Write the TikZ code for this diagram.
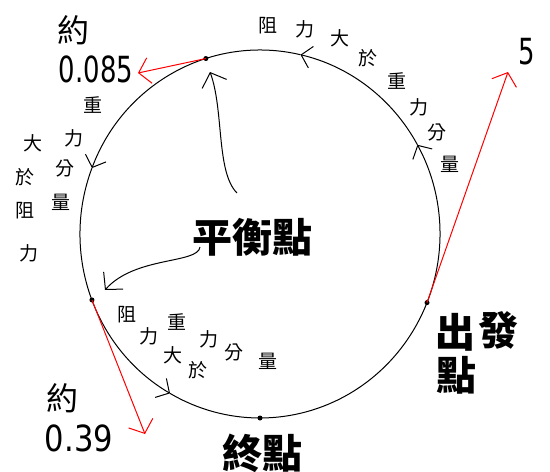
\documentclass[tikz,border=0pt]{standalone}
\usepackage{fontspec}
\usepackage{graphicx}
\newfontfamily\cjk{Noto Sans CJK TC}
\newfontfamily\numf{DejaVu Sans}
\usetikzlibrary{arrows.meta}
\begin{document}
\begin{tikzpicture}[x=1pt,y=-1pt,
  line width=1pt,
  lab/.style={font=\cjk\fontsize{19}{19}\selectfont, inner sep=0pt},
  big/.style={font=\cjk\bfseries\fontsize{40}{40}\selectfont, inner sep=0pt},
  yue/.style={font=\cjk\fontsize{32}{32}\selectfont, inner sep=0pt},
  numlab/.style={font=\numf\fontsize{36}{36}\selectfont, inner sep=0pt},
  barb/.style={-{Straight Barb[length=10pt,width=22pt]}},
  bigbarb/.style={-{Straight Barb[length=12pt,width=26pt]}},
  redarr/.style={red, -{Straight Barb[length=11pt,width=26pt]}},
  dot/.style={circle, fill=black, inner sep=0pt, minimum size=5pt}]
\useasboundingbox (0,0) rectangle (550,472);
\coordinate (c) at (260,234);
% circle with direction arrows
\draw[barb] (c) ++(21.9:180 and 184) arc[start angle=21.9, end angle=-29, x radius=180, y radius=184];
\draw[barb] (c) ++(-29:180 and 184) arc[start angle=-29, end angle=-77, x radius=180, y radius=184];
\draw[barb] (c) ++(-77:180 and 184) arc[start angle=-77, end angle=-159, x radius=180, y radius=184];
\draw[barb] (c) ++(-159:180 and 184) arc[start angle=-159, end angle=-240, x radius=180, y radius=184];
\draw (c) ++(-240:180 and 184) arc[start angle=-240, end angle=-338.1, x radius=180, y radius=184];
% points
\path (c) ++(21.9:180 and 184) node[dot] (ps) {};
\path (c) ++(-107.5:180 and 184) node[dot] (pt) {};
\path (c) ++(-201:180 and 184) node[dot] (pl) {};
\path (c) ++(-270:180 and 184) node[dot] (pe) {};
% red arrows
\coordinate (r1) at (138,73);
\coordinate (r2) at (508,72);
\coordinate (r3) at (145,434);
\draw[redarr] (pt.center) -- (r1);
\draw[redarr] (ps.center) -- (r2);
\draw[redarr] (pl.center) -- (r3);
% labels of values
\node[yue] (y1) at (73,30) {約};
\node[numlab] (v1) at (96,69) {\scalebox{0.72}[1]{0.085}};
\node[numlab] (v2) at (527,52) {\scalebox{0.72}[1]{5}};
\node[yue] (y2) at (62,398) {約};
\node[numlab] (v3) at (79,438) {\scalebox{0.85}[1]{0.39}};
% big labels
\node[big] (pb) at (252,237) {平衡點};
\node[big] (s1) at (455,332) {出};
\node[big] (s2) at (498,330) {發};
\node[big] (s3) at (456,375) {點};
\node[big] (e1) at (262,453) {終點};
% arrows from 平衡點
\coordinate (a1) at (237,193);
\coordinate (a1e) at (210,72);
\coordinate (a2) at (200,247);
\coordinate (a2e) at (105,290);
\draw[bigbarb] (a1) .. controls (216,172) and (224,110) .. (a1e);
\draw[bigbarb] (a2) .. controls (198,264) and (135,256) .. (a2e);
% top arc text
\node[lab] at (268,26) {阻};
\node[lab] at (305,29) {力};
\node[lab] at (340,38) {大};
\node[lab] at (368,58) {於};
\node[lab] at (397,81) {重};
\node[lab] at (419,107) {力};
\node[lab] at (437,132) {分};
\node[lab] at (450,164) {量};
% left text
\node[lab] at (93,105) {重};
\node[lab] at (74,138) {力};
\node[lab] at (65,168) {分};
\node[lab] at (61,202) {量};
\node[lab] at (33,143) {大};
\node[lab] at (25,177) {於};
\node[lab] at (25,211) {阻};
\node[lab] at (29,253) {力};
% lower text
\node[lab] at (127,315) {阻};
\node[lab] at (149,336) {力};
\node[lab] at (173,355) {大};
\node[lab] at (198,370) {於};
\node[lab] at (177,322) {重};
\node[lab] at (209,339) {力};
\node[lab] at (234,352) {分};
\node[lab] at (268,361) {量};
\end{tikzpicture}
\end{document}
